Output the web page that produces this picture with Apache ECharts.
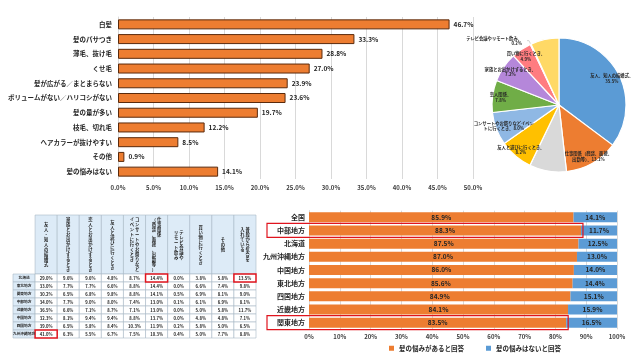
<!DOCTYPE html>
<html><head><meta charset="utf-8">
<script src="https://cdn.jsdelivr.net/npm/echarts@6/dist/echarts.min.js"></script>
<style>html,body{margin:0;padding:0;background:#fff}#c{width:640px;height:360px}</style>
</head><body><div id="c"></div>
<script>
// ---- data ----
const hairCats = ['白髪','髪のパサつき','薄毛、抜け毛','くせ毛','髪が広がる／まとまらない','ボリュームがない／ハリコシがない','髪の量が多い','枝毛、切れ毛','ヘアカラーが抜けやすい','その他','髪の悩みはない'];
const hairVals = [46.7,33.3,28.8,27.0,23.9,23.6,19.7,12.2,8.5,0.9,14.1];

const pieNames = ['友人、知人の結婚式','仕事関係（商談、面接、出勤等）','普段から気合を入れている','友人と遊びに行くとき','コンサートやお祭りなどイベントに行くとき','恋人関係','家族とお出かけするとき','買い物に行くとき','テレビ会議やリモート飲み','その他'];
const pieVals = [35.5,13.1,9.0,8.2,8.0,7.8,7.2,4.9,0.2,6.9];
const pieLabelText = ['友人、知人の結婚式、\n35.5%','仕事関係（商談、面接、\n出勤等）、13.1%','普段から気合\nを入れている、\n9.0%','友人と遊びに行くとき、\n8.2%','コンサートやお祭りなどイベン\nトに行くとき、8.0%','恋人関係、\n7.8%','家族とお出かけするとき、\n7.2%','買い物に行くとき、\n4.9%','テレビ会議やリモート飲み、\n0.2%','その他、\n6.9%'];
const pieColors = ['#5B9BD5','#ED7D31','#D9D9D9','#FFC000','#8FB8E4','#70AD47','#B587DA','#FF7C80','#FFFFFF','#FFD966'];

const tableRegions = ['北海道','東北地方','関東地方','中部地方','近畿地方','中国地方','四国地方','九州沖縄地方'];
const tableHeaders = [['友人・知人の結婚式'],['家族とお出かけするとき'],['恋人とお出かけするとき'],['友人と遊びに行くとき'],['コンサートやお祭りなど','イベントに行くとき'],['仕事関係','（商談、面接、出勤等）'],['テレビ会議や','リモート飲み'],['買い物に行くとき'],['その他'],['普段から気合を','入れている']];
const tableVals = [
  [29.0,9.6,9.6,4.8,8.7,14.4,0.0,3.8,5.8,13.5],
  [33.0,7.7,7.7,6.6,8.8,14.4,0.0,6.6,7.4,9.8],
  [30.2,6.5,6.8,9.8,8.8,14.1,0.5,6.9,8.1,9.0],
  [34.0,7.7,9.0,8.0,7.4,13.0,0.1,6.1,6.9,8.1],
  [36.5,6.6,7.1,8.7,7.1,13.0,0.0,5.0,5.8,11.7],
  [32.3,8.1,9.4,9.4,8.8,13.7,0.0,4.8,4.8,7.1],
  [39.0,6.5,5.8,8.4,10.3,11.9,0.2,5.8,5.0,6.5],
  [41.0,6.3,5.5,6.7,7.5,10.3,0.4,5.0,7.7,8.8]
];
const tableMarked = [[0,5],[0,9],[7,0]]; // [row, column]

const regionCats = ['全国','中部地方','北海道','九州沖縄地方','中国地方','東北地方','四国地方','近畿地方','関東地方'];
const yesVals = [85.9,88.3,87.5,87.0,86.0,85.6,84.9,84.1,83.5];
const noVals = [14.1,11.7,12.5,13.0,14.0,14.4,15.1,15.9,16.5];
const legendNames = ['髪の悩みがあると回答','髪の悩みはないと回答'];
const boxedRegions = ['中部地方','関東地方'];

// ---- helpers ----
const FONT = '"Noto Sans CJK JP","Noto Sans",sans-serif';
const TXT = '#262626';
function verticalText(cols){
  const arrs = cols.map(s => [...s]);
  const n = Math.max(...arrs.map(a => a.length));
  const lines = [];
  for (let i = 0; i < n; i++) lines.push(arrs.slice().reverse().map(a => a[i] || '　').join(' '));
  return lines.join('\n');
}
const headerData = tableHeaders.map((h, i) => ({value:[i, 0], text: verticalText(h)}));
const bodyData = [];
tableRegions.forEach((r, ri) => {
  bodyData.push({value:[0, ri], text:r, bg:'#DDEBF7', marked:false, small:true});
  tableVals[ri].forEach((v, ci) => {
    const m = tableMarked.some(t => t[0] === ri && t[1] === ci);
    bodyData.push({value:[ci + 1, ri], text: v.toFixed(1) + '%', bg:'#FFFFFF', marked:m});
  });
});
const colCats = ['', ...tableHeaders.map((h, i) => 'c' + i)];

function cellRender(data, isHeader){
  return function(params, api){
    const c = api.coord([api.value(0), api.value(1)]);
    const s = api.size([1, 1]);
    const d = data[params.dataIndex];
    return {
      type:'rect',
      shape:{x:c[0]-s[0]/2, y:c[1]-s[1]/2, width:s[0], height:s[1]},
      style:{fill: isHeader ? '#DDEBF7' : d.bg, stroke: d.marked ? '#E0141E' : '#A9B8C6', lineWidth: d.marked ? 1.5 : 0.6},
      z2: d.marked ? 10 : 0,
      textContent:{style:{text:d.text, fontSize: isHeader ? 4.3 : (d.small ? 3.7 : 4.2), lineHeight:5, fontWeight:'bold', fill:TXT, fontFamily:FONT, align:'center', verticalAlign:'middle'}},
      textConfig:{position:'inside'}
    };
  };
}

const chart = echarts.init(document.getElementById('c'), null, {renderer:'canvas'});
const pieCenter = [559, 105];
const option = {
  backgroundColor:'#fff',
  animation:false,
  textStyle:{fontFamily:FONT},
  grid:[
    {left:118, right:167, top:17, bottom:181, outerBoundsMode:'none'},
    {left:309, right:23, top:210.7, bottom:30.7, outerBoundsMode:'none'},
    {left:13 + 243/11, width:243*10/11, top:215, height:59, outerBoundsMode:'none'},
    {left:13, width:243, top:274, height:64, outerBoundsMode:'none'}
  ],
  xAxis:[
    {gridIndex:0, type:'value', min:0, max:50, interval:5,
     axisLabel:{formatter:v => v.toFixed(1) + '%', fontSize:6, fontWeight:'bold', color:'#404040', margin:6},
     splitLine:{lineStyle:{color:'#D9D9D9', width:1}}, axisLine:{show:false}, axisTick:{show:false}},
    {gridIndex:1, type:'value', min:0, max:100, interval:10,
     axisLabel:{formatter:v => v + '%', fontSize:6, fontWeight:'bold', color:'#404040', margin:4},
     splitLine:{lineStyle:{color:'#D9D9D9', width:1}}, axisLine:{show:false}, axisTick:{show:false}},
    {gridIndex:2, type:'category', data:colCats.slice(1), show:false},
    {gridIndex:3, type:'category', data:colCats, show:false}
  ],
  yAxis:[
    {gridIndex:0, type:'category', data:hairCats, inverse:true,
     axisLabel:{fontSize:6.5, fontWeight:'bold', color:TXT, margin:6, overflow:'none'},
     axisTick:{show:false}, axisLine:{lineStyle:{color:'#D9D9D9'}}},
    {gridIndex:1, type:'category', data:regionCats, inverse:true,
     axisLabel:{fontSize:7, fontWeight:'bold', color:TXT, margin:4, overflow:'none', width:60},
     axisTick:{show:false}, axisLine:{lineStyle:{color:'#D9D9D9'}}},
    {gridIndex:2, type:'category', data:['h'], show:false},
    {gridIndex:3, type:'category', data:tableRegions, inverse:true, show:false}
  ],
  legend:{
    data:legendNames, left:384, top:340, itemWidth:5, itemHeight:5, itemGap:22, icon:'rect',
    itemStyle:{borderWidth:0},
    textStyle:{fontSize:6.5, fontWeight:'bold', color:TXT}
  },
  series:[
    {type:'bar', xAxisIndex:0, yAxisIndex:0, data:hairVals, barWidth:10,
     itemStyle:{color:'#ED7D31', borderColor:'#5A2A0C', borderWidth:1},
     label:{show:true, position:'right', formatter:p => p.value.toFixed(1) + '%', fontSize:6.5, fontWeight:'bold', color:TXT, distance:4}},
    {name:legendNames[0], type:'bar', xAxisIndex:1, yAxisIndex:1, stack:'s', data:yesVals, barWidth:10,
     itemStyle:{color:'#ED7D31'},
     label:{show:true, position:'inside', formatter:p => p.value.toFixed(1) + '%', fontSize:6.5, fontWeight:'bold', color:TXT}},
    {name:legendNames[1], type:'bar', xAxisIndex:1, yAxisIndex:1, stack:'s', data:noVals, barWidth:10,
     itemStyle:{color:'#5B9BD5'},
     label:{show:true, position:'inside', formatter:p => p.value.toFixed(1) + '%', fontSize:6.5, fontWeight:'bold', color:TXT}},
    {type:'pie', center:pieCenter, radius:[0, 67], startAngle:90, clockwise:true, silent:true,
     itemStyle:{borderColor:'#fff', borderWidth:1.2},
     label:{show:false}, labelLine:{show:false},
     data:pieVals.map((v, i) => ({name:pieNames[i], value:v, itemStyle:{color:pieColors[i]},
       label: i === 8 ? {show:true, position:'outside', formatter:pieLabelText[i], fontSize:4.3, lineHeight:5.5, fontWeight:'bold', color:TXT, align:'center'} : {show:false},
       labelLine: i === 8 ? {show:true, length:4, length2:2, lineStyle:{color:'#A6A6A6', width:0.5}} : {show:false}}))},
    {type:'pie', center:pieCenter, radius:[36, 76], startAngle:90, clockwise:true, silent:true, z:5,
     itemStyle:{color:'rgba(0,0,0,0)', borderWidth:0},
     labelLine:{show:false},
     data:pieVals.map((v, i) => ({name:pieNames[i] + ' ', value:v,
       label:{show: i !== 8, position:'inside', formatter:pieLabelText[i], fontSize:4.3, lineHeight:5.5, fontWeight:'bold', color:TXT, align:'center'}}))},
    {type:'custom', xAxisIndex:2, yAxisIndex:2, data:headerData.map(d => d.value), renderItem:cellRender(headerData, true), silent:true},
    {type:'custom', xAxisIndex:3, yAxisIndex:3, data:bodyData.map(d => d.value), renderItem:cellRender(bodyData, false), silent:true}
  ]
};
chart.setOption(option);
const boxes = boxedRegions.map(name => {
  const i = regionCats.indexOf(name);
  const p = chart.convertToPixel({xAxisIndex:1, yAxisIndex:1}, [yesVals[i], name]);
  return {type:'rect', z:100, shape:{x:267, y:p[1]-7, width:p[0]+2-267, height:14}, style:{fill:'none', stroke:'#E0141E', lineWidth:1.2}};
});
chart.setOption({graphic:boxes});
</script>
</body></html>
